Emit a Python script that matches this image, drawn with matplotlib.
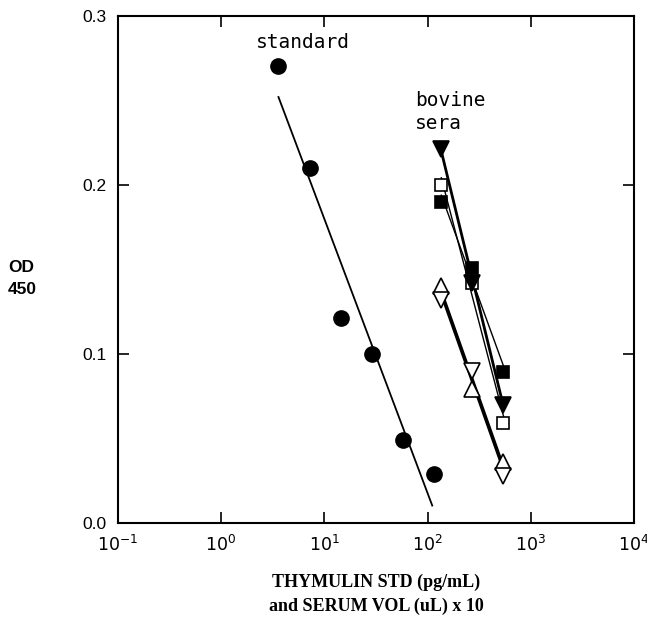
import matplotlib
matplotlib.use("Agg")
import matplotlib.pyplot as plt
import numpy as np

# standard curve (thymulin pg/mL)
std_x = [3.6, 7.2, 14.4, 28.8, 57.6, 115]
std_od = [0.270, 0.210, 0.121, 0.100, 0.049, 0.029]

# bovine sera (serum volume uL x 10)
sera_x = [136, 272, 544]
sera_filled_down = [0.221, 0.142, 0.070]
sera_open_square = [0.200, 0.142, 0.059]
sera_filled_square = [0.190, 0.151, 0.089]
sera_open_up = [0.140, 0.079, 0.036]
sera_open_down = [0.132, 0.090, 0.028]

x_ticks = [0.1, 1, 10, 100, 1000, 10000]
x_ticklabels = ['$10^{-1}$', '$10^{0}$', '$10^{1}$', '$10^{2}$', '$10^{3}$', '$10^{4}$']
y_ticks = [0.0, 0.1, 0.2, 0.3]


def fit_line(xs, ys, end_frac=1.0):
    # least squares in log10(x)
    lx = np.log10(xs)
    k, b = np.polyfit(lx, ys, 1)
    xx = np.array([lx[0], lx[0] + (lx[-1] - lx[0]) * end_frac])
    return 10 ** xx, k * xx + b


fig = plt.figure(figsize=(6.47, 6.3), dpi=100)
ax = fig.add_axes([0.182, 0.170, 0.798, 0.805])

# standard
fx, fy = fit_line(std_x, std_od, 0.99)
ax.plot(fx, fy, color='black', lw=1.3)
ax.plot(std_x, std_od, 'o', color='black', ms=11)

# bovine sera - filled triangles drawn last so they sit on top
series = [
    (sera_open_square, 's', 'white', 1.0),
    (sera_filled_square, 's', 'black', 1.0),
    (sera_open_up, '^', 'white', 2.0),
    (sera_open_down, 'v', 'white', 2.0),
    (sera_filled_down, 'v', 'black', 2.0),
]
for ys, m, fc, lw in series:
    lx, ly = fit_line(sera_x, ys)
    ax.plot(lx, ly, color='black', lw=lw, zorder=2)
for ys, m, fc, lw in series:
    ms = 9 if m == 's' else 11
    ax.plot(sera_x, ys, m, mfc=fc, mec='black', mew=1.2, ms=ms, zorder=3)

ax.set_xscale('log')
ax.set_xlim(0.1, 10000)
ax.set_ylim(0.0, 0.3)
ax.set_xticks(x_ticks)
ax.set_xticklabels(x_ticklabels)
ax.minorticks_off()
ax.set_yticks(y_ticks)
ax.set_yticklabels(['0.0', '0.1', '0.2', '0.3'])
ax.tick_params(direction='in', length=8, width=1.2, top=True, right=True,
               labelsize=12.5, pad=8)
for lab in ax.get_xticklabels() + ax.get_yticklabels():
    lab.set_family('Liberation Sans')
for sp in ax.spines.values():
    sp.set_linewidth(1.5)

ax.text(0.358, 0.947, 'standard', transform=ax.transAxes, ha='center', va='center',
        fontsize=14, family='DejaVu Sans Mono')
ax.text(0.575, 0.81, 'bovine\nsera', transform=ax.transAxes, ha='left', va='center',
        fontsize=14, family='DejaVu Sans Mono', linespacing=1.25)

fig.text(0.012, 0.558, 'OD\n450', ha='left', va='center', fontsize=12.5,
         fontweight='bold', family='Liberation Sans', linespacing=1.55)
fig.text(0.581, 0.057, 'THYMULIN STD (pg/mL)\nand SERUM VOL (uL) x 10',
         ha='center', va='center', fontsize=13, family='Liberation Serif',
         fontweight='bold', linespacing=1.5)

fig.savefig('out.png', dpi=100)
